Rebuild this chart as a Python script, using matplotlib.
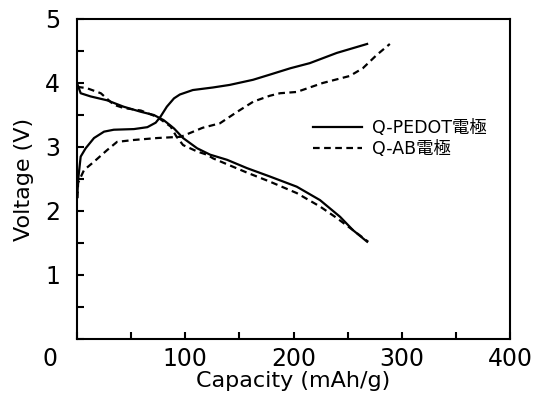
import matplotlib
matplotlib.use("Agg")
import matplotlib.pyplot as plt

plt.rcParams['font.family'] = ['DejaVu Sans', 'Noto Sans CJK JP']

# Q-PEDOT charge (solid, rising)
pedot_chg_x = [0.5, 1, 3.4, 8, 15.7, 25, 34, 52.6, 65, 72.7, 77, 83, 89.6, 95, 107, 125.6, 141, 162.6,
               178, 197, 215, 240, 268]
pedot_chg_y = [2.3, 2.48, 2.85, 2.98, 3.14, 3.24, 3.27, 3.28, 3.31, 3.38, 3.47, 3.63, 3.76, 3.82, 3.89, 3.93,
               3.97, 4.05, 4.13, 4.23, 4.31, 4.47, 4.61]
# Q-PEDOT discharge (solid, falling)
pedot_dis_x = [0, 3.4, 12.6, 27.7, 43, 59, 71, 80, 86, 89.6, 98, 111, 123, 138.6, 157, 178, 203, 224.5,
               243, 255, 268]
pedot_dis_y = [4.0, 3.84, 3.79, 3.73, 3.63, 3.55, 3.5, 3.42, 3.34, 3.29, 3.14, 2.98, 2.88, 2.8, 2.67, 2.54,
               2.38, 2.17, 1.91, 1.7, 1.52]
# Q-AB charge (dashed, rising)
ab_chg_x = [0.5, 1, 6.5, 15.7, 27.7, 37, 52.6, 74, 96, 116, 132, 148, 163, 178, 187.5, 203, 227, 252, 264,
            277, 289]
ab_chg_y = [2.2, 2.44, 2.64, 2.77, 2.95, 3.08, 3.11, 3.14, 3.16, 3.3, 3.37, 3.55, 3.71, 3.8, 3.84, 3.86,
            4.0, 4.11, 4.23, 4.44, 4.61]
# Q-AB discharge (dashed, falling)
ab_dis_x = [0, 9, 22, 34, 43, 59, 74, 86.5, 92, 98, 111, 120, 126, 157, 178, 203, 224.5, 240, 255, 269]
ab_dis_y = [3.94, 3.92, 3.84, 3.66, 3.61, 3.57, 3.47, 3.32, 3.16, 3.03, 2.93, 2.88, 2.82, 2.6, 2.46, 2.28,
            2.07, 1.89, 1.7, 1.52]

fig = plt.figure(figsize=(5.34, 4.03), dpi=100)
ax = fig.add_axes([77/534, 1 - 339/403, 433/534, 320/403])

ax.plot(pedot_chg_x, pedot_chg_y, color='black', lw=1.6, label='Q-PEDOT電極')
ax.plot(pedot_dis_x, pedot_dis_y, color='black', lw=1.6)
ax.plot(ab_chg_x, ab_chg_y, color='black', lw=1.6, linestyle=(0, (3, 2)), label='Q-AB電極')
ax.plot(ab_dis_x, ab_dis_y, color='black', lw=1.6, linestyle=(0, (3, 2)))

ax.set_xlim(0, 400)
ax.set_ylim(0, 5)
ax.set_xticks([0, 50, 100, 150, 200, 250, 300, 350, 400])
ax.set_xticklabels(['', '', '100', '', '200', '', '300', '', '400'])
ax.set_yticks([0, 0.5, 1, 1.5, 2, 2.5, 3, 3.5, 4, 4.5, 5])
ax.set_yticklabels(['', '', '1', '', '2', '', '3', '', '4', '', '5'])
ax.tick_params(direction='in', length=5, width=1.5, labelsize=17, top=False, right=False)
ax.tick_params(axis='y', pad=12)
ax.tick_params(axis='x', pad=6)
for s in ax.spines.values():
    s.set_linewidth(1.5)

# shared origin label at the lower-left corner
ax.text(-0.062, -0.063, '0', transform=ax.transAxes, fontsize=17, ha='center', va='center')
ax.set_xlabel('Capacity (mAh/g)', fontsize=16, labelpad=0)
ax.set_ylabel('Voltage (V)', fontsize=16, labelpad=8)

ax.legend(loc='upper left', bbox_to_anchor=(0.509, 0.736), frameon=False, fontsize=12.5,
          handlelength=2.8, handletextpad=0.6, labelspacing=0.15)

fig.savefig('out.png', dpi=100)
